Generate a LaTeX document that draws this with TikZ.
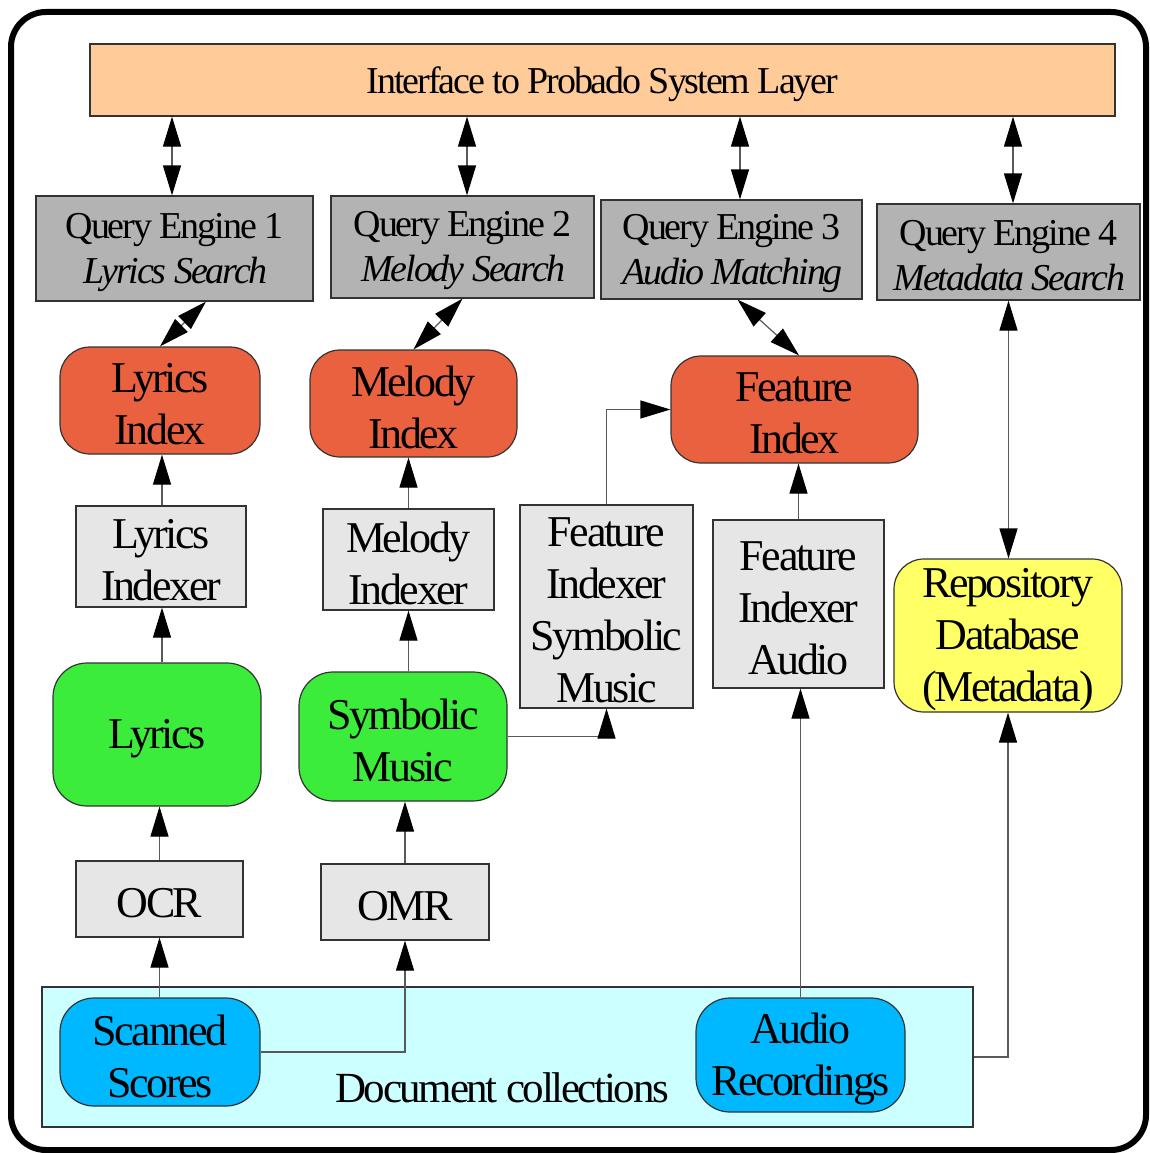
\documentclass[tikz,border=0pt]{standalone}
\usepackage{fontspec}
\setmainfont{Liberation Serif}[LetterSpace=-5.5]
\usetikzlibrary{arrows.meta}
\definecolor{peach}{HTML}{FFCC99}
\definecolor{qgray}{HTML}{B3B3B3}
\definecolor{lgray}{HTML}{E6E6E6}
\definecolor{idxred}{HTML}{EA6140}
\definecolor{dgreen}{HTML}{3BEC3B}
\definecolor{ryellow}{HTML}{FFFF66}
\definecolor{lcyan}{HTML}{CCFFFF}
\definecolor{dblue}{HTML}{00B8FF}
\newcommand\bigtxt{\fontsize{44}{52}\selectfont}
\newcommand\qtxt{\fontsize{38}{45}\selectfont}
% \bx{style}{name}{x,y}{w}{h}{text}
\newcommand\bx[6]{%
  \node[#1,minimum width=#4,minimum height=#5] (#2) at (#3) {};
  \node[txt,inner sep=0pt,align=center] (#2t) at ([yshift=-4pt]#2.center) {#6};}
\begin{document}
\begin{tikzpicture}[x=1pt,y=-1pt,
  box/.style={draw=black!80,line width=1.2pt,inner sep=0pt},
  txt/.style={font=\bigtxt},
  qebox/.style={box,fill=qgray,txt/.style={font=\qtxt}},
  idxbox/.style={box,fill=idxred,rounded corners=30pt},
  ixrbox/.style={box,fill=lgray},
  grbox/.style={box,fill=dgreen,rounded corners=34pt},
  blbox/.style={box,fill=dblue,rounded corners=34pt},
  ybox/.style={box,fill=ryellow,rounded corners=30pt},
  tip/.style={Triangle[length=30pt,width=18pt,fill=black,color=black]},
  conn/.style={draw=black!65,line width=1.2pt,arrows={-{Triangle[length=30pt,width=18pt,fill=black,color=black]}}},
  dconn/.style={draw=black!65,line width=1.2pt,
     arrows={{Triangle[length=30pt,width=18pt,fill=black,color=black]}-{Triangle[length=30pt,width=18pt,fill=black,color=black]}}}
]
\useasboundingbox (0,0) rectangle (1149,1153);
\draw[line width=6pt,rounded corners=35pt] (11,12) rectangle (1146,1150);

% top
\node[box,fill=peach,minimum width=1025,minimum height=72] (iface) at (602.5,80) {};
\node[font=\qtxt,inner sep=0pt] (ifacet) at ([yshift=-4pt]iface.center) {Interface to Probado System Layer};

% query engines
\tikzset{txt/.style={font=\qtxt}}
\bx{box,fill=qgray}{qe1}{174.5,248.5}{277}{105}{Query Engine 1\\\textit{Lyrics Search}}
\bx{box,fill=qgray}{qe2}{462.5,247}{263}{102}{Query Engine 2\\\textit{Melody Search}}
\bx{box,fill=qgray}{qe3}{731.5,249.5}{261}{99}{Query Engine 3\\\textit{Audio Matching}}
\bx{box,fill=qgray}{qe4}{1008.5,252}{263}{96}{Query Engine 4\\\textit{Metadata Search}}
\tikzset{txt/.style={font=\bigtxt}}

% indices
\bx{idxbox}{li}{160,400.5}{200}{107}{Lyrics\\Index}
\bx{idxbox}{mi}{413.5,403.5}{207}{107}{Melody\\Index}
\bx{idxbox}{fi}{794.5,409.5}{247}{107}{Feature\\Index}

% indexers
\bx{ixrbox}{lix}{161,556.5}{170}{101}{Lyrics\\Indexer}
\bx{ixrbox}{mix}{408.5,559.5}{171}{101}{Melody\\Indexer}
\bx{ixrbox}{fism}{606.5,606.5}{173}{203}{Feature\\Indexer\\Symbolic\\Music}
\bx{ixrbox}{fia}{798.5,604}{171}{168}{Feature\\Indexer\\Audio}
\bx{ybox}{repo}{1008,635.5}{228}{153}{Repository\\Database\\(Metadata)}

% sources
\bx{grbox}{lyr}{157,734.5}{208}{143}{Lyrics}
\bx{grbox}{sm}{403,736.5}{208}{129}{Symbolic\\Music}
\bx{ixrbox}{ocr}{159.5,899}{167}{76}{OCR}
\bx{ixrbox}{omr}{405,902}{168}{76}{OMR}

% document collections
\node[box,fill=lcyan,minimum width=931,minimum height=140] (doc) at (507.5,1057) {};
\node[font=\fontsize{43}{50}\selectfont,inner sep=0pt] (doctxt) at (502,1088) {Document collections};
\bx{blbox}{ss}{160,1052}{200}{108}{Scanned\\Scores}
\bx{blbox}{ar}{800.5,1055}{209}{114}{Audio\\Recordings}

% connectors top
\draw[dconn] ([xshift=-2.5pt]qe1.north) -- ([xshift=-2.5pt]qe1.north |- iface.south);
\draw[dconn] ([xshift=4.5pt]qe2.north) -- ([xshift=4.5pt]qe2.north |- iface.south);
\draw[dconn] ([xshift=8.5pt]qe3.north) -- ([xshift=8.5pt]qe3.north |- iface.south);
\draw[dconn] ([xshift=4.5pt]qe4.north) -- ([xshift=4.5pt]qe4.north |- iface.south);

% engines to indices
\draw[dconn] ([xshift=31.5pt]qe1.south) -- (li.north);
\draw[dconn] (qe2.south) -- (mi.north);
\draw[dconn] ([xshift=6pt]qe3.south) -- ([xshift=4.5pt]fi.north);
\draw[dconn] (qe4.south) -- (qe4.south |- repo.north);

% lyrics chain
\draw[conn] ([xshift=1pt]lix.north) -- ([xshift=1pt]lix.north |- li.south);
\draw[conn] ([xshift=1pt]lix.south |- lyr.north) -- ([xshift=1pt]lix.south);
\draw[conn] (ocr.north) -- (ocr.north |- lyr.south);
\draw[conn] (ocr.south |- ss.north) -- (ocr.south);

% melody chain
\draw[conn] (mix.north) -- (mix.north |- mi.south);
\draw[conn] (mix.south |- sm.north) -- (mix.south);
\draw[conn] (omr.north) -- (omr.north |- sm.south);
\draw[conn] (ss.east) -| (omr.south);

% feature chain
\draw[conn] (sm.east) -| (fism.south);
\draw[conn] (fism.north) |- (fi.west);
\draw[conn] (fia.north) -- (fia.north |- fi.south);
\draw[conn] (ar.north) -- (ar.north |- fia.south);

% metadata
\draw[conn] (doc.east) -| (repo.south);
\end{tikzpicture}
\end{document}
